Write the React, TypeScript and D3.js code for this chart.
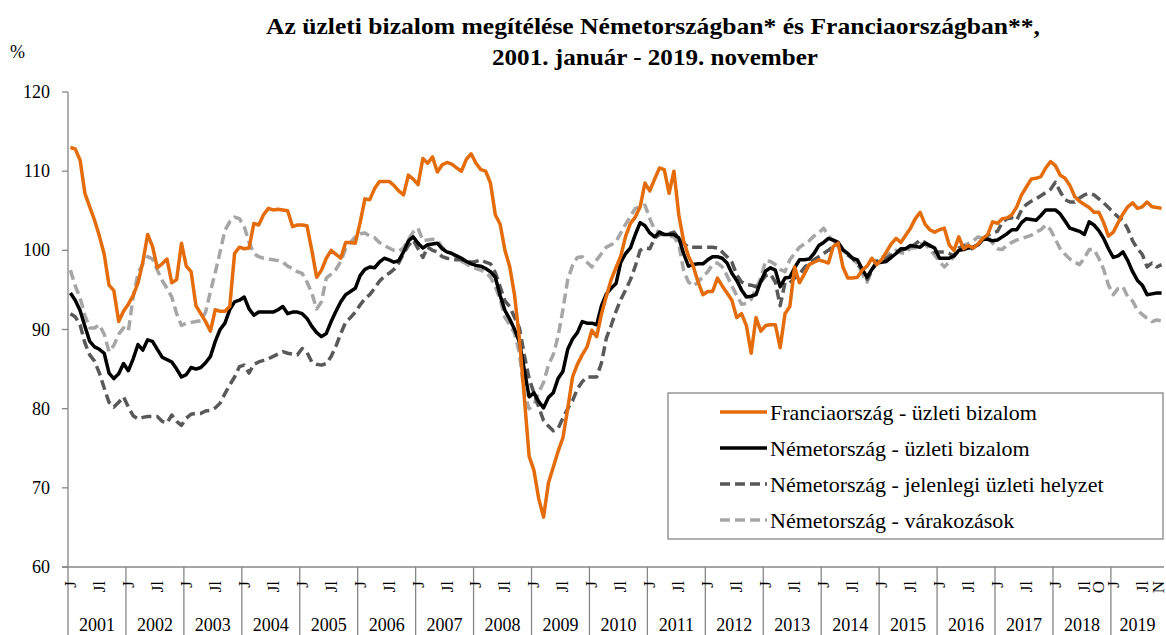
import React from 'react'
import * as d3 from 'd3'

const years = ['2001', '2002', '2003', '2004', '2005', '2006', '2007', '2008', '2009', '2010',
  '2011', '2012', '2013', '2014', '2015', '2016', '2017', '2018', '2019']

// month labels shown on the axis: J (január) and Jl (július) every year, plus a few extras
const yearTickMonths = [{ month: 0, label: 'J' }, { month: 6, label: 'Jl' }]
const extraTicks = [{ year: '2018', month: 9, label: 'O' }, { year: '2019', month: 10, label: 'N' }]

const yTicks = [60, 70, 80, 90, 100, 110, 120]

// monthly values, 2001 jan - 2019 nov
const franceBusiness = [
  113, 112.8, 111.4, 107.2, 105.5, 103.8, 101.8, 99.5, 95.6, 94.9, 91, 92.3,
  93.2, 94.3, 95.9, 98.5, 102, 100.5, 97.8, 98.3, 98.9, 95.9, 96.3, 100.9,
  98, 97.3, 93, 92, 91, 89.8, 92.5, 92.3, 92.3, 92.9, 99.6, 100.4,
  100.2, 100.3, 103.4, 103.2, 104.5, 105.3, 105.1, 105.2, 105.1, 105, 103, 103.2,
  103.2, 103.1, 100, 96.6, 97.5, 99, 100, 99.5, 99, 101, 101, 100.9,
  103.5, 106.5, 106.4, 107.8, 108.7, 108.7, 108.7, 108.2, 107.5, 107, 109.5, 109,
  108.3, 111.6, 111, 111.8, 109.9, 110.8, 111.1, 110.9, 110.4, 110, 111.5, 112.2,
  111, 110.2, 110, 108.5, 104.5, 103.3, 100, 97.9, 94.3, 88.8, 81.5, 74,
  72.2, 68.6, 66.3, 70.6, 72.6, 74.6, 76.3, 80, 84, 85.6, 86.8, 87.8,
  89.9, 89.1, 92, 94.2, 96.3, 97.8, 99.3, 101.8, 103.4, 104.2, 105.5, 108.5,
  107.5, 109, 110.4, 110.2, 107.2, 110, 104.5, 101.2, 99.3, 98, 96, 94.4,
  94.8, 94.8, 96.5, 95.5, 94.6, 93.7, 91.5, 92, 90.5, 87, 91.5, 89.8,
  90.5, 90.6, 90.6, 87.7, 92, 92.9, 97.9, 95.9, 97, 98.2, 98.5, 98.8,
  98.6, 98.4, 100.5, 100.9, 97.9, 96.5, 96.5, 96.6, 97.5, 98, 99, 98.2,
  98.8, 99.8, 100.8, 101.5, 101, 101.9, 102.8, 104, 104.8, 103.3, 102.6, 102.3,
  102.6, 102.8, 100.7, 100, 101.7, 100.2, 100.6, 100.3, 100.8, 101.5, 102, 103.6,
  103.4, 104, 104.1, 104.5, 105.5, 107, 108, 109, 109.1, 109.3, 110.4, 111.2,
  110.7, 109.5, 109.1, 108.2, 106.8, 106.2, 105.8, 105.4, 104.8, 104.8, 103.5, 101.8,
  102.3, 103.5, 104.6, 105.5, 106, 105.3, 105.5, 106.1, 105.5, 105.4, 105.3,
]

const germanyBusiness = [
  94.6, 93.7, 92.4, 90.4, 88.5, 87.8, 87.5, 87, 84.5, 83.8, 84.4, 85.7,
  84.8, 86.3, 88.1, 87.4, 88.7, 88.5, 87.5, 86.5, 86.2, 85.9, 85, 84,
  84.3, 85.2, 85, 85.2, 85.8, 86.6, 88.5, 90, 90.8, 92.5, 93.5, 93.7,
  94.1, 92.6, 91.8, 92.2, 92.2, 92.2, 92.2, 92.5, 92.9, 92, 92.2, 92.2,
  92, 91.4, 90.4, 89.6, 89.1, 89.5, 91, 92.3, 93.5, 94.4, 94.8, 95.2,
  96.8, 97.6, 97.9, 97.8, 98.5, 99, 98.8, 98.5, 98.7, 99.8, 101.2, 101.7,
  100.9, 100.3, 100.7, 100.8, 100.9, 100.2, 99.8, 99.6, 99.3, 99, 98.6, 98.3,
  98.1, 98, 97.7, 97.3, 96.6, 94.3, 92.4, 91.3, 90, 88.4, 84.9, 81.5,
  82, 80.9, 80.1, 81.4, 82, 83.8, 84.7, 87.5, 88.8, 89.6, 91, 90.8,
  90.8, 90.6, 93, 94.5, 95.2, 95.8, 98.5, 99.6, 100.3, 102, 103.5, 103.1,
  102.2, 101.7, 102.3, 102, 102, 102, 101.6, 99.6, 98, 98.2, 98.3, 98.3,
  98.8, 99.2, 99.2, 99, 98.4, 97.1, 96.2, 95, 94.1, 94.2, 94.4, 96.1,
  97.4, 97.8, 97.5, 95.4, 96.5, 96.6, 97.8, 98.8, 98.8, 98.9, 99.6, 100.6,
  101, 101.5, 101.3, 101, 100.1, 99.6, 99, 98.8, 97.6, 96.6, 97.6, 98.4,
  98.5, 98.6, 99.1, 99.6, 100.2, 100.2, 100.6, 100.5, 100.4, 100.9, 100.6, 100.3,
  99, 99, 99, 99.3, 100, 100.1, 100.3, 100.4, 100.7, 101.4, 101.4, 101.2,
  101.3, 101.7, 102.1, 102.6, 102.6, 103.5, 104, 103.9, 103.8, 104.4, 105.1, 105.1,
  105.1, 104.6, 103.7, 102.8, 102.6, 102.4, 102, 103.6, 103.2, 102.5, 101.5, 100.2,
  99.1, 99.3, 99.8, 98.7, 97.3, 96.2, 95.6, 94.4, 94.5, 94.6, 94.6,
]

const germanyCurrent = [
  92, 91.6, 90.6, 88.3, 86.8, 86, 84.5, 82.6, 80.8, 80.2, 80.8, 81.5,
  80.2, 79.1, 78.7, 78.9, 79, 79, 79, 78.4, 78.2, 79.2, 78.4, 77.9,
  78.8, 79.3, 79.4, 79.4, 79.7, 79.8, 80.1, 80.7, 81.9, 83, 84, 85.3,
  85.5, 84.5, 85.6, 85.9, 86.1, 86.3, 86.6, 86.9, 87.2, 87, 86.9, 86.8,
  87.6, 87.1, 85.9, 85.6, 85.5, 85.7, 86.6, 87.9, 89.5, 90.9, 91.5, 92.2,
  93.1, 93.9, 94.4, 95.2, 96.1, 96.7, 97.1, 97.6, 98.4, 99.6, 100.6, 101.3,
  100.2, 99.1, 100.4, 100, 99.8, 99.2, 99, 98.9, 98.8, 98.8, 98.7, 98.5,
  98.6, 98.8, 98.5, 98.3, 97.2, 95.4, 93.6, 92.9, 91.5, 90.2, 86.8, 83.8,
  82, 80.2, 78.5, 77.8, 77.2, 77.5, 78.8, 80, 81, 82.5, 83.4, 84,
  84, 84, 85.8, 88.9, 90.5, 92.3, 93.8, 95, 96.3, 98, 100, 100.3,
  100.2, 101.5, 102, 102, 102.1, 102.3, 101.5, 100.9, 100.4, 100.4, 100.4, 100.4,
  100.4, 100.4, 100.3, 99.8, 99.2, 98.5, 96.9, 96, 95.7, 95.6, 95.4, 96,
  96.8, 97, 96, 93, 95.9, 95.9, 96.5, 97, 97.8, 98.4, 98.8, 99.2,
  99.6, 100, 100.5, 100.6, 100, 99.4, 99, 98.2, 97.6, 96.3, 97.5, 98.6,
  98.8, 99, 99.4, 99.7, 100, 100.2, 100.4, 100.8, 101.3, 101, 100.6, 99.8,
  99.8, 99.8, 99.6, 99.3, 100.3, 100.6, 100, 100.3, 100.8, 101.3, 101.9, 102.2,
  102.4, 103.5, 104, 104.1, 103.8, 105.1, 105.8, 106.2, 106.5, 106.9, 107.3, 107.7,
  108.6, 107.4, 106.4, 106.1, 106.1, 106.6, 107, 107.2, 107, 106.5, 106, 105.4,
  104.8, 104.2, 103.8, 102.7, 101.2, 100.2, 99.5, 97.9, 98.4, 97.9, 98.2,
]

const germanyExpectations = [
  97.5, 95.5, 94, 91.8, 90.2, 90.2, 90.6, 89.4, 87.2, 88, 89.4, 90.2,
  89.8, 94.1, 97.1, 98.3, 99.2, 98.9, 97.5, 96.2, 95.2, 94.1, 92, 90.5,
  90.8, 90.9, 91, 91.1, 92.2, 94.8, 97.2, 99.8, 102.5, 103.6, 104.2, 104,
  103, 101, 99.6, 99.2, 99, 98.9, 98.8, 98.7, 98.5, 98, 97.7, 97.3,
  97.1, 96, 94.6, 92.6, 93.5, 96.5, 97, 97.6, 98.6, 100.2, 101, 101.7,
  102.1, 102.2, 101.8, 101.6, 101, 100.6, 100.3, 100, 99.9, 100.3, 101.4, 102.3,
  102.8, 101.2, 101.3, 101.4, 101.3, 100.4, 99.9, 99.6, 99.1, 98.6, 98.3, 97.9,
  97.7, 97.5, 97.2, 96.6, 95.4, 93.8, 91.5, 90.6, 89.5, 87, 82, 80,
  80.5, 82.1, 83.3, 85.5, 86.8, 89.1, 92.5, 96.3, 98.1, 99.1, 99.2, 98.5,
  97.9, 98.8, 99.6, 100.4, 100.7, 101.1, 102.2, 103.3, 104.3, 105.3, 105.5, 105.7,
  104, 102.6, 102.3, 102, 101.8, 101.7, 100.8, 97.5, 96, 95.5, 96, 96.7,
  97.3, 98.2, 98.4, 97.9, 96.8, 95.5, 94.3, 93.2, 93.3, 93.8, 95.2, 96.5,
  98.7, 98.6, 98.2, 97.6, 97.3, 98.8, 99.6, 100.4, 100.8, 101.2, 101.8, 102.2,
  102.8, 101.8, 101.2, 100.6, 100, 99.4, 99, 98.3, 97, 96, 97.5, 98.8,
  99.1, 99.4, 99.7, 100, 99.7, 99.6, 100.3, 100.3, 100.8, 100.8, 100.1, 99.4,
  98.6, 97.9, 98.5, 99.2, 99.9, 100.6, 100.9, 101.2, 101.7, 101.5, 101.6, 100.9,
  100.2, 100.1, 100.7, 101, 101.3, 101.5, 101.7, 101.9, 102.3, 102.6, 103.2, 102.6,
  101.4, 100.2, 99.5, 98.9, 98.5, 98.2, 99, 100.1, 100.1, 99, 97.6, 95.6,
  94.4, 95.2, 95.4, 94.1, 93.6, 92.4, 91.9, 91.4, 91, 91.2, 91.1,
]

const series = [
  { name: 'Franciaország - üzleti bizalom', values: franceBusiness, color: '#E46C0A', dash: null, width: 3.5 },
  { name: 'Németország - üzleti bizalom', values: germanyBusiness, color: '#000000', dash: null, width: 3.5 },
  { name: 'Németország - jelenlegi üzleti helyzet', values: germanyCurrent, color: '#595959', dash: '10,5', width: 3.5 },
  { name: 'Németország - várakozások', values: germanyExpectations, color: '#A6A6A6', dash: '10,5', width: 3.5 },
]

const W = 1166
const H = 635
const FONT = '"Liberation Serif", "Times New Roman", serif'

export default function App() {
  const nMonths = franceBusiness.length
  const left = 68
  const right = 1164
  const top = 92
  const bottom = 567

  const x = d3.scaleLinear().domain([0, nMonths]).range([left, right])
  const y = d3.scaleLinear().domain([60, 120]).range([bottom, top])

  const line = d3.line<number>()
    .x((d, i) => x(i + 0.5))
    .y(d => y(d))

  const ticks: { m: number, label: string }[] = []
  years.forEach((yr, yi) => {
    yearTickMonths.forEach(t => ticks.push({ m: yi * 12 + t.month, label: t.label }))
    extraTicks.filter(t => t.year === yr).forEach(t => ticks.push({ m: yi * 12 + t.month, label: t.label }))
  })

  const legendRows = [412, 448, 484, 520]

  return (
    <svg width={W} height={H} style={{ position: 'absolute', left: 0, top: 0, background: '#fff' }}
      fontFamily={FONT}>
      <rect x={0} y={0} width={W} height={H} fill='#fff' />

      {/* title */}
      <text x={653} y={34} textAnchor='middle' fontSize={23} fontWeight='bold'
        textLength={774} lengthAdjust='spacingAndGlyphs'>
        Az üzleti bizalom megítélése Németországban* és Franciaországban**,
      </text>
      <text x={655} y={65} textAnchor='middle' fontSize={23} fontWeight='bold'
        textLength={326} lengthAdjust='spacingAndGlyphs'>
        2001. január - 2019. november
      </text>

      <text x={10} y={52} fontSize={18} dominantBaseline='central'>%</text>

      {/* y axis */}
      <line x1={left} x2={left} y1={top} y2={H} stroke='#868686' strokeWidth={1.3} />
      {yTicks.map(t => (
        <g key={t}>
          <line x1={left - 6} x2={left} y1={y(t)} y2={y(t)} stroke='#868686' strokeWidth={1.3} />
          <text x={50} y={y(t)} textAnchor='end' dominantBaseline='central' fontSize={18}>{t}</text>
        </g>
      ))}

      {/* x axis */}
      <line x1={left - 6} x2={right} y1={bottom} y2={bottom} stroke='#868686' strokeWidth={1.3} />
      {years.map((yr, yi) => {
        const start = yi * 12
        const end = Math.min(start + 12, nMonths)
        return (
          <g key={yr}>
            {yi > 0 && (
              <line x1={x(start)} x2={x(start)} y1={bottom} y2={H} stroke='#868686' strokeWidth={1.3} />
            )}
            <text x={(x(start) + x(end)) / 2} y={631} textAnchor='middle' fontSize={18}>{yr}</text>
          </g>
        )
      })}
      {ticks.map(t => (
        <text key={t.m} transform={`translate(${Math.min(x(t.m + 0.5), W - 8)},${581}) rotate(-90)`}
          textAnchor='end' dominantBaseline='central' fontSize={17}>{t.label}</text>
      ))}

      {/* series, drawn back to front */}
      {[...series].reverse().map(s => (
        <path key={s.name} d={line(s.values) || ''} fill='none' stroke={s.color}
          strokeWidth={s.width} strokeDasharray={s.dash || undefined} strokeLinejoin='round' />
      ))}

      {/* legend */}
      <rect x={668} y={393} width={495} height={146} fill='#fff' stroke='#868686' strokeWidth={1.3} />
      {series.map((s, i) => (
        <g key={s.name}>
          <line x1={720} x2={767} y1={legendRows[i]} y2={legendRows[i]} stroke={s.color}
            strokeWidth={s.width} strokeDasharray={s.dash || undefined} />
          <text x={770} y={legendRows[i]} dominantBaseline='central' fontSize={22}>{s.name}</text>
        </g>
      ))}
    </svg>
  )
}
